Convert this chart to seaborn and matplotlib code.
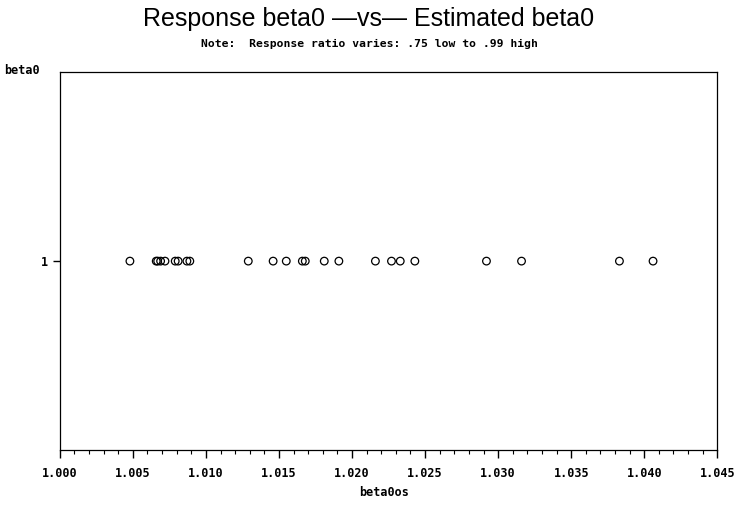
import seaborn as sns
import pandas as pd
import matplotlib.pyplot as plt
from matplotlib.ticker import MultipleLocator

# estimated beta0 values, all with response beta0 = 1
beta0os = [1.0048, 1.0066, 1.0067, 1.0069, 1.0072, 1.0079, 1.0081, 1.0087,
           1.0089, 1.0129, 1.0146, 1.0155, 1.0166, 1.0168, 1.0181, 1.0191,
           1.0216, 1.0227, 1.0233, 1.0243, 1.0292, 1.0316, 1.0383, 1.0406]
beta0 = [1] * len(beta0os)
xticks = [1.000, 1.005, 1.010, 1.015, 1.020, 1.025, 1.030, 1.035, 1.040, 1.045]

df = pd.DataFrame({'beta0os': beta0os, 'beta0': beta0})

sns.set_style('white')
plt.rcParams['font.family'] = ['DejaVu Sans Mono']
plt.rcParams['text.color'] = 'black'
plt.rcParams['xtick.color'] = 'black'
plt.rcParams['ytick.color'] = 'black'
plt.rcParams['axes.labelcolor'] = 'black'

fig = plt.figure(figsize=(7.38, 5.08), dpi=100)
ax = fig.add_axes([0.081, 0.114, 0.891, 0.744])

sns.scatterplot(x='beta0os', y='beta0', data=df, ax=ax, marker='o', s=30,
                facecolor='none', edgecolor='black', linewidth=0.9)

ax.set_xlim(1.000, 1.045)
ax.set_ylim(0.5, 1.5)
ax.set_xticks(xticks)
ax.set_xticklabels([f'{t:.3f}' for t in xticks], fontsize=8.5, fontweight='bold')
ax.xaxis.set_minor_locator(MultipleLocator(0.001))
ax.set_yticks([1])
ax.set_yticklabels(['1'], fontsize=8.5, fontweight='bold')
ax.tick_params(axis='x', which='major', direction='out', length=6, width=1, bottom=True, pad=6)
ax.tick_params(axis='x', which='minor', direction='out', length=3, width=0.8, color='black', bottom=True)
ax.tick_params(axis='y', which='major', direction='out', length=5, width=1, left=True)

for s in ax.spines.values():
    s.set_color('black')
    s.set_linewidth(0.9)

ax.set_xlabel('')
ax.set_ylabel('')
fig.text(0.52, 0.031, 'beta0os', fontsize=8.5, fontweight='bold', ha='center', va='center')
fig.text(0.005, 0.862, 'beta0', fontsize=8.5, fontweight='bold', ha='left', va='center')

fig.text(0.5, 0.962, 'Response beta0 \u2014vs\u2014 Estimated beta0', ha='center', va='center',
         fontsize=18, family=['Liberation Sans'])
fig.text(0.5, 0.913, 'Note:  Response ratio varies: .75 low to .99 high', ha='center', va='center',
         fontsize=8.2, fontweight='bold')

fig.savefig('out.png', dpi=100)
